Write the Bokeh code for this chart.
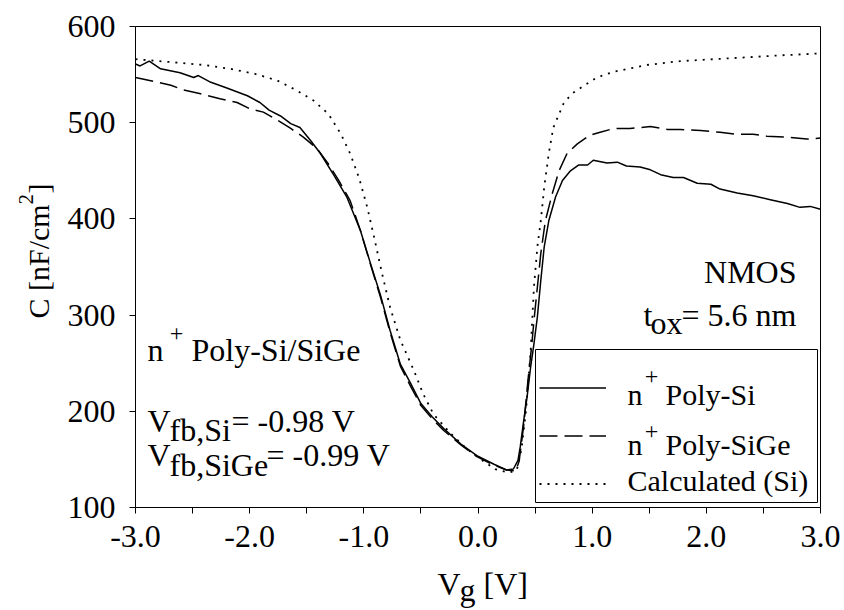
import math
from bokeh.plotting import figure
from bokeh.models import (Label, BoxAnnotation, Legend, LegendItem, LinearAxis,
                          FixedTicker, NumeralTickFormatter, Range1d)
from bokeh.embed import file_html
from bokeh.resources import INLINE

# ---------------- data ----------------
vg_si = [-3.00, -2.96, -2.88, -2.78, -2.61, -2.49, -2.45, -2.34, -2.20, -2.02,
         -1.91, -1.83, -1.73, -1.64, -1.56, -1.47, -1.38, -1.26, -1.15, -1.03,
         -0.94, -0.85, -0.77, -0.68, -0.59, -0.50, -0.40, -0.30, -0.15, -0.01,
         0.14, 0.25, 0.31, 0.35, 0.37, 0.40, 0.43, 0.46, 0.49, 0.52,
         0.55, 0.58, 0.62, 0.68, 0.74, 0.81, 0.88, 0.96, 1.01, 1.13,
         1.22, 1.30, 1.42, 1.51, 1.60, 1.71, 1.80, 1.92, 2.04, 2.12,
         2.27, 2.41, 2.56, 2.71, 2.82, 2.91, 3.00]
c_si = [561, 559, 564, 556, 552, 547, 549, 542, 536, 528,
        521, 513, 507, 499, 495, 482, 468, 445, 423, 388,
        353, 319, 284, 249, 229, 208, 194, 182, 166, 154,
        145, 139, 140, 149, 163, 190, 215, 245, 270, 298,
        336, 371, 398, 423, 440, 450, 456, 456, 461, 458,
        459, 455, 454, 451, 446, 443, 443, 437, 436, 431,
        427, 424, 420, 416, 412, 413, 410]

vg_sige = [-3.00, -2.84, -2.69, -2.58, -2.43, -2.26, -2.11, -1.99, -1.88, -1.76,
           -1.64, -1.53, -1.41, -1.31, -1.22, -1.12, -1.03, -0.94, -0.85, -0.77,
           -0.68, -0.59, -0.50, -0.40, -0.30, -0.15, -0.01, 0.14, 0.25, 0.33,
           0.36, 0.40, 0.44, 0.47, 0.49, 0.52, 0.55, 0.59, 0.65, 0.71,
           0.78, 0.87, 0.98, 1.07, 1.19, 1.33, 1.51, 1.66, 1.77, 1.95,
           2.12, 2.27, 2.41, 2.53, 2.71, 2.88, 3.00]
c_sige = [547, 543, 539, 534, 530, 525, 521, 514, 511, 503,
          494, 485, 473, 457, 440, 419, 388, 352, 317, 282,
          247, 226, 206, 192, 180, 165, 153, 144, 139, 138,
          148, 185, 235, 268, 294, 329, 364, 398, 426, 450,
          468, 478, 487, 490, 494, 494, 496, 493, 493, 492,
          490, 488, 488, 486, 485, 483, 484]

vg_calc = [-3.00, -2.69, -2.40, -2.17, -1.96, -1.76, -1.58, -1.44, -1.31, -1.20,
           -1.12, -1.04, -0.97, -0.91, -0.84, -0.77, -0.68, -0.56, -0.48, -0.39,
           -0.24, -0.10, 0.05, 0.15, 0.27, 0.34, 0.38, 0.42, 0.46, 0.49,
           0.52, 0.55, 0.58, 0.62, 0.66, 0.75, 0.82, 0.91, 1.04, 1.19,
           1.48, 1.77, 2.06, 2.36, 2.65, 3.00]
c_calc = [566, 563, 560, 556, 551, 544, 533, 523, 509, 488,
          468, 442, 412, 381, 343, 308, 274, 242, 218, 197,
          177, 161, 148, 140, 136, 139, 160, 200, 260, 329,
          371, 398, 433, 468, 495, 520, 530, 537, 547, 553,
          560, 564, 566, 568, 570, 572]

x_major = [-3.0, -2.0, -1.0, 0.0, 1.0, 2.0, 3.0]
x_minor = [-2.5, -1.5, -0.5, 0.5, 1.5, 2.5]
y_major = [100, 200, 300, 400, 500, 600]

series_names = ["Poly-Si", "Poly-SiGe", "Calculated (Si)"]

# ---------------- layout constants (pixels) ----------------
W, H = 844, 610
FL, FR, FT, FB = 135, 820, 26, 507          # where the data box sits
X0, X1, Y0, Y1 = -3.0, 3.0, 100.0, 600.0
FONT = "Liberation Serif"
BIG = "32px"
LEG = "30px"
SUP = "24px"
YLAB = "30px"
SHIFT = 8   # text baseline correction (pixels)


def dx(px):
    return X0 + (px - FL) / (FR - FL) * (X1 - X0)


def dy(py):
    return Y1 - (py - FT) / (FB - FT) * (Y1 - Y0)


# the plotting frame fills the whole canvas; axes are pinned at the data box edges
p = figure(width=W, height=H,
           x_range=Range1d(dx(0), dx(W)), y_range=Range1d(dy(H), dy(0)),
           x_axis_location=None, y_axis_location=None,
           output_backend="svg", toolbar_location=None,
           min_border=0, min_border_left=0, min_border_right=0,
           min_border_top=0, min_border_bottom=0)
p.background_fill_color = "white"
p.border_fill_color = "white"
p.outline_line_color = None
p.xgrid.visible = False
p.ygrid.visible = False


def style_axis(ax, labels=True, ticks=True):
    ax.axis_line_color = "black"
    ax.axis_line_width = 1
    ax.major_tick_in = 0
    ax.major_tick_out = 6
    ax.minor_tick_in = 0
    ax.minor_tick_out = 6
    ax.major_tick_line_color = "black" if ticks else None
    ax.minor_tick_line_color = "black" if ticks else None
    ax.major_label_text_font = FONT
    ax.major_label_text_font_size = BIG
    ax.major_label_text_color = "black" if labels else None


xaxis = LinearAxis(fixed_location=Y0, bounds=(X0, X1),
                   ticker=FixedTicker(ticks=x_major, minor_ticks=x_minor),
                   formatter=NumeralTickFormatter(format="0.0"))
style_axis(xaxis)
xaxis.major_label_standoff = 12
p.add_layout(xaxis, "below")

yaxis = LinearAxis(fixed_location=X0, bounds=(Y0, Y1),
                   ticker=FixedTicker(ticks=y_major),
                   formatter=NumeralTickFormatter(format="0"))
style_axis(yaxis)
yaxis.minor_tick_line_color = None
yaxis.major_label_standoff = 14
p.add_layout(yaxis, "left")

# top and right edges of the box
topaxis = LinearAxis(fixed_location=Y1, bounds=(X0, X1), ticker=FixedTicker(ticks=[]))
style_axis(topaxis, labels=False, ticks=False)
p.add_layout(topaxis, "above")
rightaxis = LinearAxis(fixed_location=X1, bounds=(Y0, Y1), ticker=FixedTicker(ticks=[]))
style_axis(rightaxis, labels=False, ticks=False)
p.add_layout(rightaxis, "right")

r_si = p.line(vg_si, c_si, line_color="black", line_width=1.5)
r_sige = p.line(vg_sige, c_sige, line_color="black", line_width=1.5,
                line_dash="18 7")
r_calc = p.line(vg_calc, c_calc, line_color="black", line_width=1.8,
                line_dash="2 6")

# legend frame
box = BoxAnnotation(left=dx(535), right=dx(817), top=dy(349), bottom=dy(502),
                    fill_color="white", fill_alpha=1.0,
                    line_color="black", line_width=1, line_alpha=1.0)
p.add_layout(box)

# legend swatches drawn by the library legend
legend = Legend(items=[LegendItem(label=" ", renderers=[r]) for r in (r_si, r_sige, r_calc)],
                location=(539, H - 503.5), orientation="vertical",
                glyph_width=67, glyph_height=41, label_height=41,
                label_width=1, label_standoff=0, spacing=7, padding=5, margin=0,
                label_text_font_size="1px", border_line_color=None,
                background_fill_alpha=0.0)
p.add_layout(legend)


def lab(text, px, py, size=BIG, align="left", baseline="alphabetic", angle=0.0):
    if baseline == "alphabetic":
        if angle == 0.0:
            py -= SHIFT
        else:
            px -= SHIFT * 0.8
    p.add_layout(Label(x=dx(px), y=dy(py), text=text, text_font=FONT,
                       text_font_size=size, text_color="black",
                       text_align=align, text_baseline=baseline, angle=angle))


# legend labels
lab("n", 627, 402, LEG)
lab("+", 651, 376, SUP, align="center", baseline="middle")
lab(series_names[0], 665, 402, LEG)
lab("n", 627, 452, LEG)
lab("+", 651, 431, SUP, align="center", baseline="middle")
lab(series_names[1], 665, 452, LEG)
lab(series_names[2], 627, 488, LEG)

# annotations left
lab("n", 147, 357)
lab("+", 176, 333, SUP, align="center", baseline="middle")
lab("Poly-Si/SiGe", 191, 357)
lab("V", 147, 428)
lab("fb,Si", 169, 437)
lab("= -0.98 V", 231, 428)
lab("V", 147, 462)
lab("fb,SiGe", 169, 472)
lab("= -0.99 V", 266, 462)

# annotations right
lab("NMOS", 796, 279, align="right")
lab("= 5.6 nm", 796, 322, align="right")
lab("ox", 682, 330, align="right")
lab("t", 652, 322, align="right")

# axis titles
lab("V", 437, 591)
lab("g", 459, 597)
lab("[V]", 483, 591)
lab("C [nF/cm", 44, 318, YLAB, angle=math.pi / 2)
lab("2", 32, 204, "21px", angle=math.pi / 2)
lab("]", 44, 193, YLAB, angle=math.pi / 2)

open("out.html", "w").write(file_html(p, INLINE))
